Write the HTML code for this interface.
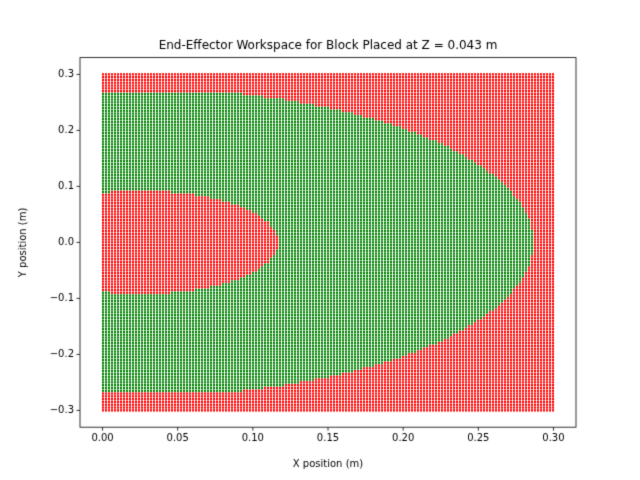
<!DOCTYPE html><html><head><style>body{margin:0;background:#fff}canvas{display:block}</style></head><body>
<canvas id="c" width="640" height="480"></canvas>
<script>
const c=document.getElementById('c'),g=c.getContext('2d');
g.fillStyle='#fff';g.fillRect(0,0,640,480);
const L=80,R=576,T=57.6,B=427.2;
const X=x=>L+(x+0.015)/0.33*(R-L), Y=y=>T+(0.33-y)/0.66*(B-T);
for(let i=0;i<=150;i++){const x=i*0.002;
 for(let j=0;j<=120;j++){const y=-0.3+j*0.005;
  const cx=0.021;
  let ok=Math.abs(y)<0.267 && ((x-cx)*(x-cx)/(0.266*0.266)+y*y/(0.275*0.275))<1;
  if(ok && (x-0.025)*(x-0.025)+y*y<0.092*0.092) ok=false;
  if(ok && x<0.03 && Math.abs(y)<0.09) ok=false;
  g.fillStyle=ok?'#008000':'#ff0000';
  g.fillRect(Math.round(X(x))-1,Y(y)-1.2,2,2.3);
 }}
g.strokeStyle='#000';g.lineWidth=0.8;g.strokeRect(L,T,R-L,B-T);
g.fillStyle='#000';g.font='10px "DejaVu Sans",sans-serif';
g.textAlign='center';g.textBaseline='top';
for(let k=0;k<=6;k++){const v=k*0.05,px=X(v);g.beginPath();g.moveTo(px,B);g.lineTo(px,B+3.5);g.stroke();g.fillText(v.toFixed(2),px,B+6);}
g.textAlign='right';g.textBaseline='middle';
for(let k=-3;k<=3;k++){const v=k*0.1,py=Y(v);g.beginPath();g.moveTo(L,py);g.lineTo(L-3.5,py);g.stroke();g.fillText((k<0?'\u2212':'')+Math.abs(v).toFixed(1),L-6,py);}
g.textAlign='center';g.textBaseline='alphabetic';
g.fillText('X position (m)',(L+R)/2,467);
g.save();g.translate(26,(T+B)/2);g.rotate(-Math.PI/2);g.fillText('Y position (m)',0,0);g.restore();
g.font='12px "DejaVu Sans",sans-serif';
g.fillText('End-Effector Workspace for Block Placed at Z = 0.043 m',(L+R)/2,49);
</script></body></html>
